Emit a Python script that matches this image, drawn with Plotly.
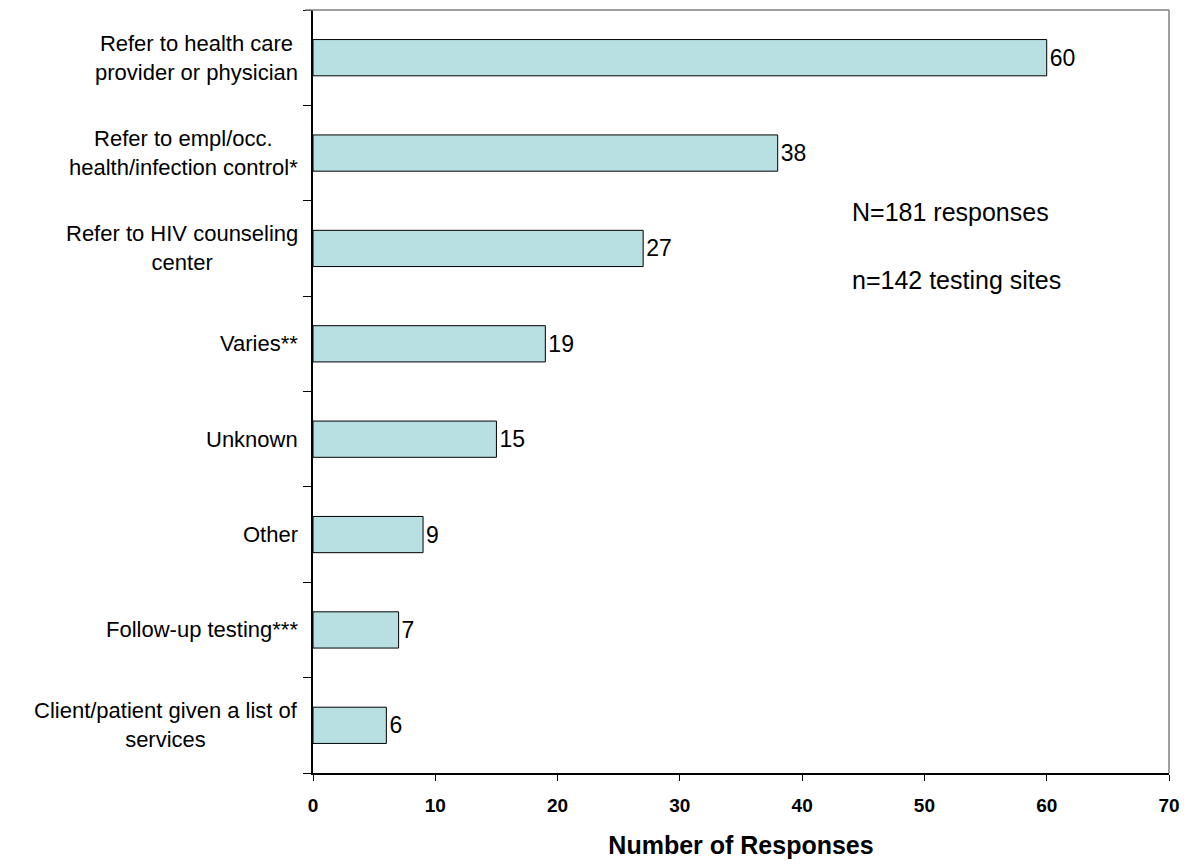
import plotly.graph_objects as go

# Data (top to bottom as shown)
categories = [
    "Refer to health care<br>provider or physician",
    "Refer to empl/occ.<br>health/infection control*",
    "Refer to HIV counseling<br>center",
    "Varies**",
    "Unknown",
    "Other",
    "Follow-up testing***",
    "Client/patient given a list of<br>services",
]
responses = [60, 38, 27, 19, 15, 9, 7, 6]
x_ticks = [0, 10, 20, 30, 40, 50, 60, 70]
notes = ["N=181 responses", "n=142 testing sites"]

font_family = "Liberation Sans, Arial, sans-serif"

fig = go.Figure()

fig.add_trace(
    go.Bar(
        x=responses,
        y=categories,
        orientation="h",
        width=0.38,
        marker=dict(color="#B8E0E2", line=dict(color="black", width=1)),
        text=[str(v) for v in responses],
        textposition="outside",
        textfont=dict(size=23, color="black", family=font_family),
        cliponaxis=False,
        showlegend=False,
    )
)

# Category labels, centred like the original
for cat in categories:
    fig.add_annotation(
        x=0, y=cat, xref="paper", yref="y",
        text=cat, showarrow=False,
        xanchor="right", yanchor="middle", align="center",
        xshift=-13,
        font=dict(size=22, color="black", family=font_family),
    )

# Side notes
note_y = [0.735, 0.646]
for txt, ny in zip(notes, note_y):
    fig.add_annotation(
        x=0.627, y=ny, xref="paper", yref="paper",
        text=txt, showarrow=False, xanchor="left", yanchor="middle",
        font=dict(size=25, color="black", family=font_family),
    )

# Grey top/right frame
fig.add_shape(type="line", xref="paper", yref="paper", x0=-0.009, x1=1, y0=1, y1=1,
              line=dict(color="#808080", width=1.5))
fig.add_shape(type="line", xref="paper", yref="paper", x0=1, x1=1, y0=0, y1=1,
              line=dict(color="#808080", width=1.5))

# page body adds ~8px offset, so the figure is a bit smaller than the window
fig.update_layout(
    width=1171,
    height=851,
    margin=dict(l=305, r=10, t=2, b=86, autoexpand=False),
    plot_bgcolor="white",
    paper_bgcolor="white",
    font=dict(family=font_family, color="black"),
)

fig.update_xaxes(
    range=[0, 70],
    tickvals=x_ticks,
    ticktext=[f"<b>{t}</b>" for t in x_ticks],
    tickfont=dict(size=19, color="black", family=font_family),
    ticks="outside",
    ticklen=6,
    tickcolor="black",
    showline=True,
    linecolor="black",
    linewidth=1.5,
    showgrid=False,
    zeroline=False,
    automargin=False,
    ticklabelstandoff=8,
    ticklabeloverflow="allow",
    title=dict(text="<b>Number of Responses</b>",
               font=dict(size=25, color="black", family=font_family),
               standoff=26),
)

fig.update_yaxes(
    categoryorder="array",
    categoryarray=categories[::-1],
    showticklabels=False,
    ticks="outside",
    tickson="boundaries",
    ticklen=8,
    tickcolor="black",
    showline=True,
    linecolor="black",
    linewidth=1.5,
    showgrid=False,
    zeroline=False,
    automargin=False,
)

fig.write_html("out.html")
